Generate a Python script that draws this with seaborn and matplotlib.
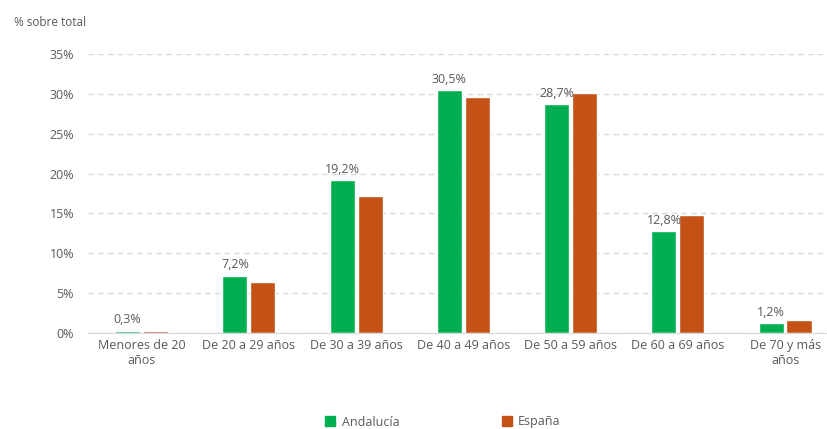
import numpy as np
import pandas as pd
import seaborn as sns
import matplotlib.pyplot as plt
from matplotlib.ticker import FuncFormatter

categorias = ['Menores de 20\naños', 'De 20 a 29 años', 'De 30 a 39 años', 'De 40 a 49 años',
              'De 50 a 59 años', 'De 60 a 69 años', 'De 70 y más\naños']
andalucia = [0.3, 7.2, 19.2, 30.5, 28.7, 12.8, 1.2]
espana = [0.25, 6.4, 17.2, 29.6, 30.1, 14.8, 1.6]
series = ['Andalucía', 'España']
colores = ['#00B050', '#C45116']
gris = '#595959'

df = pd.DataFrame({
    'cat': categorias * 2,
    'valor': andalucia + espana,
    'serie': [series[0]] * len(categorias) + [series[1]] * len(categorias),
})

sns.set_style('white')
plt.rcParams['font.family'] = ['Open Sans', 'DejaVu Sans']

fig = plt.figure(figsize=(8.28, 4.29), dpi=100)
ax = fig.add_axes([88/828, 1 - 333/429, 1 - 88/828, (333 - 54)/429])

sns.barplot(data=df, x='cat', y='valor', hue='serie', palette=colores,
            width=0.52, gap=0.1, ax=ax, legend=False, saturation=1)

ax.set_ylim(0, 35)
ax.set_xlim(-0.5, 6.40)
ax.set_yticks(np.arange(0, 36, 5))
ax.yaxis.set_major_formatter(FuncFormatter(lambda v, p: f'{v:.0f}%'))
ax.grid(axis='y', color='#D9D9D9', linestyle=(0, (4, 3)), linewidth=1)
ax.set_axisbelow(True)
for s in ['top', 'right', 'left']:
    ax.spines[s].set_visible(False)
ax.spines['bottom'].set_color('#D9D9D9')
ax.tick_params(axis='both', length=0, colors=gris, labelsize=9)
ax.tick_params(axis='y', pad=10)
ax.tick_params(axis='x', pad=4)
ax.set_xlabel('')
ax.set_ylabel('')

# etiquetas de Andalucía
cont = ax.containers[0]
ax.bar_label(cont, labels=[f'{v:.1f}%'.replace('.', ',') for v in andalucia],
             padding=3, fontsize=9, color=gris)

fig.text(14/828, 1 - 22/429, '% sobre total', fontsize=8.5, color=gris, va='center')

handles = [plt.Rectangle((0, 0), 1, 1, color=c) for c in colores]
fig.legend(handles, series, loc='center', bbox_to_anchor=(443/828, 1 - 422/429), ncol=2,
           frameon=False, fontsize=9, labelcolor=gris, handlelength=0.8, handleheight=0.8,
           handletextpad=0.5, columnspacing=8.2)

fig.savefig('out.png', dpi=100)
